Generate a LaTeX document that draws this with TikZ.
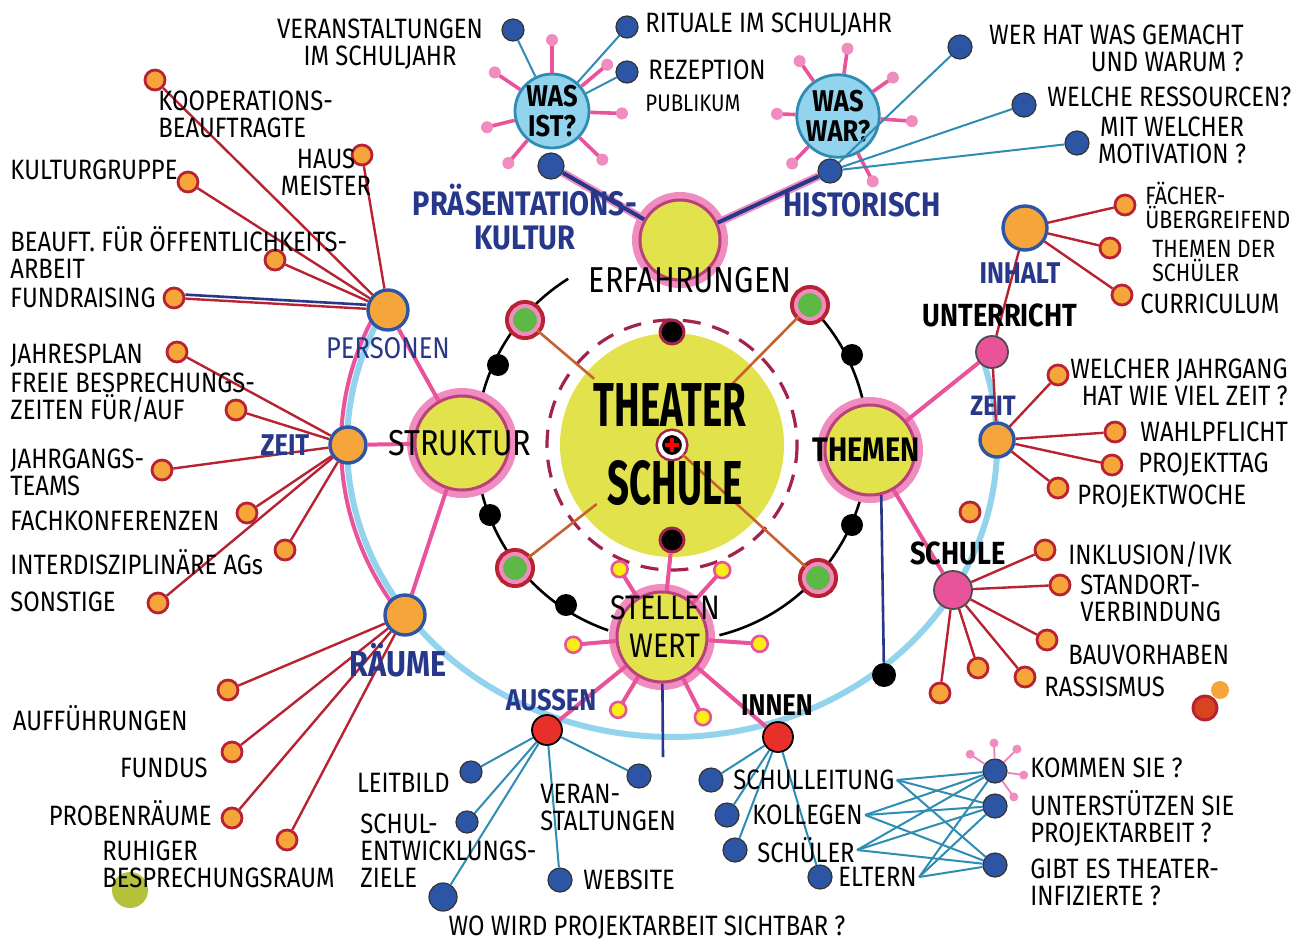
\documentclass[tikz,border=0pt]{standalone}
\usepackage{fontspec}
\setmainfont{Fira Sans}[FakeStretch=0.85]
\newfontfamily\titlefont{Fira Sans}[FakeStretch=0.62]
\usepackage{xcolor}
\usepackage{tikz}
\usetikzlibrary{calc}

\definecolor{tsyellow}{HTML}{E2E34C}
\definecolor{tspink}{HTML}{E9539A}
\definecolor{tshalo}{HTML}{F08CC0}
\definecolor{tsorange}{HTML}{F6A53A}
\definecolor{tsred}{HTML}{B82233}
\definecolor{tsnavy}{HTML}{27388A}
\definecolor{tsblue}{HTML}{2D55A6}
\definecolor{tssky}{HTML}{92D3EE}
\definecolor{tsteal}{HTML}{2F8CB2}
\definecolor{tsgreen}{HTML}{5CB946}
\definecolor{tsbrown}{HTML}{C5622E}
\definecolor{tsdot}{HTML}{E8302A}
\definecolor{tsolive}{HTML}{B3C23A}
\definecolor{tswine}{HTML}{A3234A}

\pgfdeclarelayer{paper}
\pgfdeclarelayer{back}
\pgfsetlayers{paper,back,main}

\begin{document}
\begin{tikzpicture}[x=0.5pt, y=-0.5pt, font=\fontsize{14}{13.5}\selectfont,
  lab/.style={inner sep=1pt},
  odot/.style={circle, fill=tsorange, draw=tsred, line width=1.4pt, minimum size=10pt, inner sep=0pt},
  hub/.style={circle, fill=tsorange, draw=tsblue, line width=1.7pt, minimum size=18pt, inner sep=0pt},
  bdot/.style={circle, fill=tsblue, draw=black!80, line width=0.6pt, minimum size=11pt, inner sep=0pt},
  rdot/.style={circle, fill=tsdot, draw=black, line width=0.9pt, minimum size=15pt, inner sep=0pt},
  pdot/.style={circle, fill=tspink, draw=black!70, line width=0.9pt, minimum size=16pt, inner sep=0pt},
  kdot/.style={circle, fill=black, minimum size=11pt, inner sep=0pt},
  kring/.style={circle, fill=black, draw=tswine, line width=1.5pt, minimum size=12pt, inner sep=0pt},
  gdot/.style={circle, fill=tsgreen, draw=tshalo, line width=2pt, minimum size=14pt, inner sep=0pt,
    preaction={draw=tsred, line width=6pt}},
  sun/.style={circle, fill=tsyellow, draw=tspink!80!black, line width=1.5pt, inner sep=0pt,
    preaction={draw=tshalo, line width=8pt}},
  ask/.style={circle, fill=tssky, draw=tsteal, line width=1.4pt, minimum size=37pt, inner sep=0pt,
    align=center, font=\fontsize{15}{15}\selectfont\bfseries},
  tip/.style={circle, fill=tshalo, minimum size=6pt, inner sep=0pt},
  ytip/.style={circle, fill=yellow!80!tsyellow, draw=tspink, line width=1.3pt, minimum size=8pt, inner sep=0pt},
  plus/.style={circle, fill=black, draw=white, line width=2pt, minimum size=12pt, inner sep=0pt,
    preaction={draw=tswine, line width=4.5pt}},
  redln/.style={tsred, line width=1.2pt},
  pinkln/.style={tspink, line width=2pt},
  tealln/.style={tsteal, line width=1pt},
  navyln/.style={tsnavy, line width=1.3pt},
  brownln/.style={tsbrown, line width=1.3pt},
  skyln/.style={tssky, line width=3pt},
  orbit/.style={black, line width=1.3pt},
  title/.style={inner sep=0pt, font=\titlefont\bfseries\fontsize{31}{31}\selectfont},
  big/.style={font=\fontsize{18}{19}\selectfont},
  bigb/.style={font=\fontsize{16}{17}\selectfont\bfseries},
  blu/.style={text=tsnavy, font=\fontsize{15}{16}\selectfont\bfseries},
  small/.style={font=\fontsize{12.5}{12}\selectfont},
]
\begin{pgfonlayer}{paper}
  \fill[white] (0,0) rectangle (1295,944);
\end{pgfonlayer}
\useasboundingbox (0,0) rectangle (1295,944);

% mitte
\node[circle, fill=tsyellow, minimum size=112pt, inner sep=0pt] (ts) at (672,445) {};
\draw[tswine, line width=1.6pt, dash pattern=on 9pt off 6pt] (ts.center) circle[radius=125];
\node[kring] (kt) at (672,332) {};
\node[kring] (kb) at (672,540) {};
\node[plus] (pl) at (672,445) {};
\draw[red, line width=1.6pt] ([xshift=-3.6pt]pl.center) -- ([xshift=3.6pt]pl.center);
\draw[red, line width=1.6pt] ([yshift=-3.6pt]pl.center) -- ([yshift=3.6pt]pl.center);

% umlaufbahn
\foreach \n/\x/\y in {g1/525/320, g2/810/305, g3/515/568, g4/818/578}
  \node[gdot] (\n) at (\x,\y) {};
\foreach \x/\y [count=\i] in {498/365, 490/515, 566/605, 852/355, 852/525}
  \node[kdot] (k\i) at (\x,\y) {};
\begin{pgfonlayer}{back}
  \draw[orbit] plot[domain=109:238, samples=80] ({672+196*cos(\x)},{445+196*sin(\x)});
  \draw[orbit] plot[domain=315:436, samples=80] ({672+196*cos(\x)},{445+196*sin(\x)});
  % grosser bogen
  \draw[skyln] plot[domain=-18:208, samples=150] ({672+325*cos(\x)},{445+292*sin(\x)});
  \draw[pinkln] plot[domain=144:208, samples=60] ({672+331*cos(\x)},{445+297*sin(\x)});
\end{pgfonlayer}
\draw[brownln] (g1) -- ($(g1)!0.47!(ts)$);
\draw[brownln] (g2) -- ($(g2)!0.6!(ts)$);
\draw[brownln] (g3) -- ($(g3)!0.52!(ts)$);
\draw[brownln] (g4) -- (pl);
\node[title] (tsa) at (670,405) {THEATER};
\node[title] (tsb) at (675,483) {SCHULE};

% vier grosse kreise
\node[sun, minimum size=40pt] (erf) at (680,240) {};
\node[sun, minimum size=47pt] (stru) at (462,443) {};
\node[sun, minimum size=45pt] (them) at (870,450) {};
\node[sun, minimum size=45pt] (stel) at (662,637) {};
\foreach \a/\l in {238/80, 312/90, 175/89, 4/98, 121/85, 63/90}
  \draw[pinkln] (stel) -- ++(\a:\l) node[ytip] (st\a) {};
\draw[pinkln] (stel) -- (kb);
\coordinate (sdown) at (663,757);
\draw[navyln] (stel) -- (sdown);

% was ist? / was war?
\node[ask] (wasist) at (552,111) {WAS\\IST?};
\node[ask] (waswar) at (838,116) {WAS\\WAR?};
\foreach \a/\l in {270/71, 214/69, 320/72, 2/70, 44/70, 130/68, 166/67}
  \draw[pinkln, line width=1.8pt] (wasist) -- ++(\a:\l) node[tip] (wi\a) {};
\foreach \a/\l in {278/68, 235/67, 182/61, 134/66, 62/74, 325/67, 4/74}
  \draw[pinkln, line width=1.8pt] (waswar) -- ++(\a:\l) node[tip] (ww\a) {};
\node[bdot, minimum size=13pt] (pk) at (551,166) {};
\node[bdot, minimum size=12pt] (hk) at (830,171) {};
\foreach \n/\x/\y in {v1/513/30, v2/627/27, v3/627/72}{
  \node[bdot] (\n) at (\x,\y) {};
  \draw[tealln] (\n) -- (wasist);
}
\foreach \n/\x/\y in {w1/960/47, w2/1024/105, w3/1077/143}{
  \node[bdot, minimum size=12pt] (\n) at (\x,\y) {};
  \draw[tealln] (\n) -- (hk);
}
\draw[tshalo, line width=4pt] (erf) -- (pk);
\draw[navyln, line width=2pt] (erf) -- (pk);
\draw[tshalo, line width=4pt] (erf) -- (hk);
\draw[navyln, line width=2pt] (erf) -- (hk);

% knoten auf dem bogen
\node[hub, minimum size=20pt] (pers) at (388,310) {};
\node[hub] (zl) at (348,445) {};
\node[hub, minimum size=20pt] (rae) at (405,615) {};
\node[hub, minimum size=22pt] (inh) at (1025,228) {};
\node[hub, minimum size=17pt] (zr) at (997,440) {};
\node[pdot] (unt) at (992,352) {};
\node[pdot, minimum size=19pt] (schu) at (953,590) {};
\node[kdot, minimum size=12pt] (kr) at (884,675) {};
\node[rdot] (aus) at (547,730) {};
\node[rdot] (inn) at (778,737) {};
\draw[pinkln] (pers) -- (stru);
\draw[pinkln] (zl) -- (stru);
\draw[pinkln] (rae) -- (stru);
\draw[pinkln] (them) -- (unt);
\draw[pinkln] (them) -- (schu);
\draw[pinkln] (stel) -- (aus);
\draw[pinkln] (stel) -- (inn);
\draw[navyln] (them.-76) -- (kr);
\draw[redln] (inh) -- (unt);
\draw[redln] (unt) -- (zr);

% kinder (orange)
\foreach \x/\y [count=\i] in {155/80, 362/155, 188/182, 275/260, 174/298}{
  \node[odot] (pe\i) at (\x,\y) {};
  \draw[redln] (pe\i) -- (pers);
}
\draw[navyln, transform canvas={yshift=2pt}] (pe5) -- (pers);
\foreach \x/\y [count=\i] in {177/352, 236/410, 162/470, 247/513, 285/550, 158/603}{
  \node[odot] (ze\i) at (\x,\y) {};
  \draw[redln] (ze\i) -- (zl);
}
\foreach \x/\y [count=\i] in {228/690, 232/752, 232/818, 287/840}{
  \node[odot] (ra\i) at (\x,\y) {};
  \draw[redln] (ra\i) -- (rae);
}
\foreach \x/\y [count=\i] in {1125/205, 1110/248, 1122/295}{
  \node[odot] (in\i) at (\x,\y) {};
  \draw[redln] (in\i) -- (inh);
}
\foreach \x/\y [count=\i] in {1058/375, 1115/432, 1112/465, 1058/488}{
  \node[odot] (zt\i) at (\x,\y) {};
  \draw[redln] (zt\i) -- (zr);
}
\foreach \x/\y [count=\i] in {1045/550, 1060/585, 1047/640, 1025/677, 978/668, 940/693}{
  \node[odot] (sc\i) at (\x,\y) {};
  \draw[redln] (sc\i) -- (schu);
}

% kinder (blau)
\foreach \x/\y/\s [count=\i] in {471/772/11, 467/822/11, 443/897/14, 560/880/12, 639/776/12}{
  \node[bdot, minimum size=\s pt] (au\i) at (\x,\y) {};
  \draw[tealln] (au\i) -- (aus);
}
\foreach \x/\y [count=\i] in {711/780, 727/815, 735/850, 820/877}{
  \node[bdot, minimum size=12pt] (ii\i) at (\x,\y) {};
  \draw[tealln] (ii\i) -- (inn);
}
\foreach \n/\y in {q1/771, q2/806, q3/865}
  \node[bdot, minimum size=12pt] (\n) at (995,\y) {};
\foreach \a/\l in {268/28, 214/30, 315/31, 8/29, 54/32}
  \draw[tshalo!80!tspink, line width=0.9pt] (q1) -- ++(\a:\l) node[tip, minimum size=4.5pt] (qt\a) {};

% einzelne punkte
\node[odot] (lone) at (970,512) {};
\node[circle, fill=tsorange, minimum size=9pt, inner sep=0pt] (dota) at (1220,690) {};
\node[circle, fill=tsbrown!70!red, draw=tsred, line width=1.5pt, minimum size=12pt, inner sep=0pt] (dotb) at (1205,708) {};
\node[circle, fill=tsolive, minimum size=18pt, inner sep=0pt] (blob) at (130,890) {};

% grosse beschriftungen
\node[big] (l-erf) at (690,280) {ERFAHRUNGEN};
\node[big] (l-stru) at (460,443) {STRUKTUR};
\node[bigb, font=\fontsize{17}{18}\selectfont\bfseries] (l-them) at (866,450) {THEMEN};
\node[big, align=center, font=\fontsize{17}{19}\selectfont] (l-stel) at (665,627) {STELLEN\\WERT};
\node[bigb] (l-schu) at (958,553) {SCHULE};
\node[bigb] (l-unt) at (1000,315) {UNTERRICHT};
\node[bigb, font=\fontsize{15}{16}\selectfont\bfseries] (l-inn) at (777,705) {INNEN};
\node[blu] (l-aus) at (551,700) {AUSSEN};
\node[blu, align=center, font=\fontsize{17}{17}\selectfont\bfseries] (l-prae) at (525,217) {PRÄSENTATIONS-\\KULTUR};
\node[blu, font=\fontsize{17}{17}\selectfont\bfseries] (l-hist) at (862,205) {HISTORISCH};
\node[blu, font=\fontsize{15}{16}\selectfont] (l-pers) at (388,348) {PERSONEN};
\node[blu] (l-zl) at (285,445) {ZEIT};
\node[blu, font=\fontsize{18}{18}\selectfont\bfseries] (l-rae) at (398,660) {RÄUME};
\node[blu] (l-inh) at (1020,273) {INHALT};
\node[blu, font=\fontsize{14}{14}\selectfont\bfseries] (l-zr) at (993,406) {ZEIT};

% kleine beschriftungen oben
\node[lab, align=center] (l-vera) at (380,44) {VERANSTALTUNGEN\\IM SCHULJAHR};
\node[lab, anchor=west] (l-rit) at (643,25) {RITUALE IM SCHULJAHR};
\node[lab, anchor=west] (l-rez) at (646,70) {REZEPTION};
\node[lab, anchor=west, font=\fontsize{12}{12}\selectfont] (l-pub) at (643,103) {PUBLIKUM};
\node[lab, align=right, anchor=east] (l-wer) at (1246,48) {WER HAT WAS GEMACHT\\UND WARUM ?};
\node[lab, anchor=west] (l-res) at (1045,97) {WELCHE RESSOURCEN?};
\node[lab, align=center] (l-mot) at (1172,140) {MIT WELCHER\\MOTIVATION ?};

% rechts
\node[lab, small, align=left, anchor=west] (l-fae) at (1143,205) {FÄCHER-\\ÜBERGREIFEND};
\node[lab, small, align=left, anchor=west] (l-ths) at (1150,261) {THEMEN DER\\SCHÜLER};
\node[lab, anchor=west] (l-cur) at (1138,304) {CURRICULUM};
\node[lab, align=right, anchor=east] (l-jg) at (1290,382) {WELCHER JAHRGANG\\HAT WIE VIEL ZEIT ?};
\node[lab, anchor=west] (l-wp) at (1138,432) {WAHLPFLICHT};
\node[lab, anchor=west] (l-pt) at (1136,465) {PROJEKTTAG};
\node[lab, anchor=west] (l-pw) at (1075,497) {PROJEKTWOCHE};
\node[lab, anchor=west] (l-ink) at (1066,555) {INKLUSION/IVK};
\node[lab, align=left, anchor=west] (l-sv) at (1078,598) {STANDORT-\\VERBINDUNG};
\node[lab, anchor=west] (l-bau) at (1066,655) {BAUVORHABEN};
\node[lab, anchor=west] (l-ras) at (1042,687) {RASSISMUS};

% unten
\node[lab, anchor=west] (l-kom) at (1028,768) {KOMMEN SIE ?};
\node[lab, align=left, anchor=west] (l-ust) at (1028,818) {UNTERSTÜTZEN SIE\\PROJEKTARBEIT ?};
\node[lab, align=left, anchor=west] (l-gib) at (1028,882) {GIBT ES THEATER-\\INFIZIERTE ?};
\node[lab, anchor=west] (l-sl) at (731,780) {SCHULLEITUNG};
\node[lab, anchor=west] (l-kol) at (750,815) {KOLLEGEN};
\node[lab, anchor=west] (l-sch) at (755,850) {SCHÜLER};
\node[lab, anchor=west] (l-elt) at (836,877) {ELTERN};
\foreach \s in {l-sl, l-kol, l-sch, l-elt}
  \foreach \q in {q1, q2, q3}
    \draw[tealln] (\s.east) -- (\q);
\node[lab] (l-wo) at (647,928) {WO WIRD PROJEKTARBEIT SICHTBAR ?};
\node[lab, anchor=west] (l-web) at (581,880) {WEBSITE};
\node[lab, align=left, anchor=west] (l-ver) at (538,808) {VERAN-\\STALTUNGEN};
\node[lab, anchor=east] (l-leit) at (452,783) {LEITBILD};
\node[lab, align=left, anchor=west] (l-se) at (358,851) {SCHUL-\\ENTWICKLUNGS-\\ZIELE};

% links
\node[lab, anchor=east] (l-auf) at (190,718) {AUFFÜHRUNGEN};
\node[lab, anchor=east] (l-fun) at (210,768) {FUNDUS};
\node[lab, anchor=east] (l-pro) at (214,813) {PROBENRÄUME};
\node[lab, align=left, anchor=west] (l-ruh) at (100,864) {RUHIGER\\BESPRECHUNGSRAUM};
\node[lab, anchor=west] (l-son) at (8,602) {SONSTIGE};
\node[lab, anchor=west] (l-int) at (8,562) {INTERDISZIPLINÄRE AGs};
\node[lab, anchor=west] (l-fk) at (8,521) {FACHKONFERENZEN};
\node[lab, align=left, anchor=west] (l-jt) at (8,472) {JAHRGANGS-\\TEAMS};
\node[lab, align=left, anchor=west] (l-fb) at (8,398) {FREIE BESPRECHUNGS-\\ZEITEN FÜR/AUF};
\node[lab, anchor=west] (l-jp) at (8,356) {JAHRESPLAN};
\node[lab, anchor=west] (l-fr) at (8,298) {FUNDRAISING};
\node[lab, align=left, anchor=west] (l-oef) at (8,252) {BEAUFT. FÜR ÖFFENTLICHKEITS-\\ARBEIT};
\node[lab, anchor=west] (l-kg) at (8,170) {KULTURGRUPPE};
\node[lab, align=center] (l-hm) at (326,172) {HAUS\\MEISTER};
\node[lab, align=left, anchor=west] (l-koop) at (156,114) {KOOPERATIONS-\\BEAUFTRAGTE};
\end{tikzpicture}
\end{document}
